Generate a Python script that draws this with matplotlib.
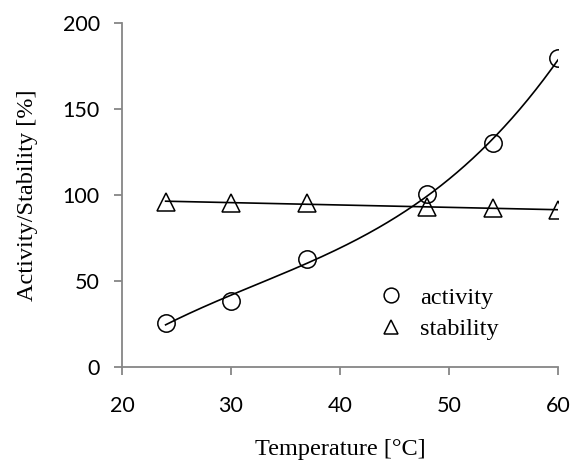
import numpy as np
import matplotlib
matplotlib.use("Agg")
import matplotlib.pyplot as plt

# values
temperature = [24, 30, 37, 48, 54, 60]
activity = [25.5, 38.3, 62.6, 100.3, 130.0, 179.5]
stability = [96.0, 95.3, 95.0, 93.0, 92.1, 91.1]

x_ticks = [20, 30, 40, 50, 60]
y_ticks = [0, 50, 100, 150, 200]

axis_grey = "#868686"
serif = "Liberation Serif"
sans = "Lato"

fig = plt.figure(figsize=(5.72, 4.66), dpi=100)
ax = fig.add_axes([0.2133, 0.2135, 0.7622, 0.7371])

# trendlines fitted from the data: polynomial for activity, linear for stability
xs = np.linspace(min(temperature), max(temperature), 300)
act_fit = np.polyval(np.polyfit(temperature, activity, 3), xs)
stab_fit = np.polyval(np.polyfit(temperature, stability, 1), xs)
ax.plot(xs, act_fit, color="black", lw=1.2, zorder=2)
ax.plot(xs, stab_fit, color="black", lw=1.2, zorder=2)

ax.plot(temperature, activity, linestyle="none", marker="o", ms=12.5,
        mfc="none", mec="black", mew=1.1, label="activity", zorder=3)
ax.plot(temperature, stability, linestyle="none", marker="^", ms=12.5,
        mfc="none", mec="black", mew=1.1, label="stability", zorder=3)

ax.set_xlim(20, 60)
ax.set_ylim(0, 200)
ax.set_xticks(x_ticks)
ax.set_yticks(y_ticks)

for side in ["top", "right"]:
    ax.spines[side].set_visible(False)
for side in ["left", "bottom"]:
    ax.spines[side].set_color(axis_grey)
    ax.spines[side].set_linewidth(1.3)

ax.tick_params(axis="both", direction="out", length=6, width=1.3,
               color=axis_grey, labelsize=15.5)
ax.tick_params(axis="x", pad=15)
ax.tick_params(axis="y", pad=10)
for lbl in ax.get_xticklabels() + ax.get_yticklabels():
    lbl.set_fontfamily(sans)

ax.set_xlabel("Temperature [°C]", fontfamily=serif, fontsize=17.5, labelpad=17)
ax.set_ylabel("Activity/Stability [%]", fontfamily=serif, fontsize=17.5, labelpad=18)

leg = ax.legend(loc="center left", bbox_to_anchor=(0.588, 0.154), frameon=False,
                prop={"family": serif, "size": 17.5}, markerscale=0.85,
                borderpad=0, borderaxespad=0,
                handlelength=1.0, handletextpad=0.7, labelspacing=0.4)

fig.savefig("out.png", dpi=100)
